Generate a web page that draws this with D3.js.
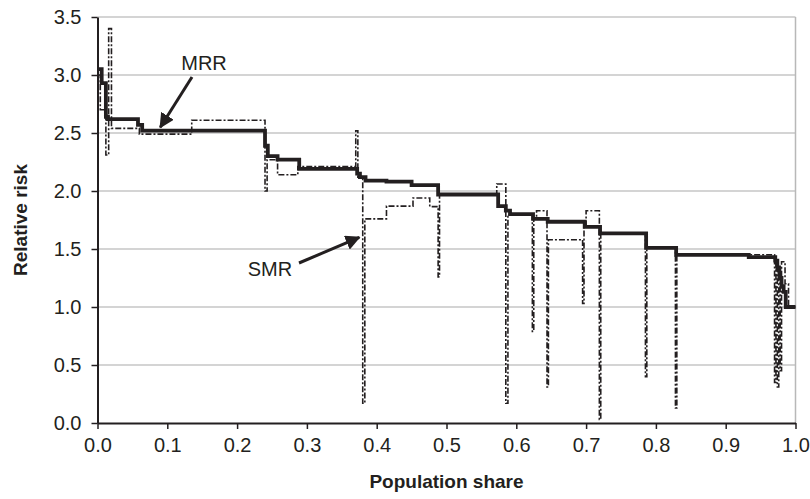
<!DOCTYPE html>
<html lang="en">
    <head>
        <meta charset="utf-8">
        <title>Relative risk by population share</title>
        <script type="text/javascript" src="https://cdnjs.cloudflare.com/ajax/libs/d3/7.8.5/d3.min.js"></script>
        <style>
            body { margin: 0; background: #fff; }
            text { font-family: "Liberation Sans", Arial, sans-serif; fill: #231f20; }
        </style>
    </head>
    <body>
        <div id="plot"></div>
        <script type="text/javascript">
            // step data: share where each step starts, and its value
            var mrrShare = [0, 0.006, 0.012, 0.015, 0.058, 0.064, 0.240, 0.244, 0.258, 0.289, 0.372, 0.376, 0.384, 0.414,
                            0.450, 0.488, 0.574, 0.585, 0.591, 0.624, 0.645, 0.698, 0.720, 0.786, 0.829, 0.933,
                            0.971, 0.974, 0.977, 0.980, 0.983, 0.986, 1.0];
            var mrrRisk  = [3.05, 2.93, 2.64, 2.62, 2.57, 2.52, 2.39, 2.30, 2.27, 2.19, 2.15, 2.12, 2.09, 2.08,
                            2.05, 1.97, 1.87, 1.83, 1.80, 1.76, 1.735, 1.69, 1.635, 1.51, 1.45, 1.43,
                            1.40, 1.33, 1.25, 1.18, 1.13, 1.00, 1.00];

            var smrShare = [0, 0.004, 0.012, 0.016, 0.020, 0.060, 0.135, 0.240, 0.243, 0.258, 0.287, 0.370, 0.373,
                            0.380, 0.383, 0.414, 0.452, 0.476, 0.488, 0.490, 0.572, 0.585, 0.588, 0.623, 0.625,
                            0.629, 0.644, 0.646, 0.695, 0.697, 0.700, 0.719, 0.721, 0.785, 0.787, 0.828, 0.830,
                            0.970, 0.972, 0.974, 0.976, 0.978, 0.980, 0.985, 0.990, 1.0];
            var smrRisk  = [3.00, 2.70, 2.31, 3.40, 2.54, 2.49, 2.61, 2.00, 2.27, 2.14, 2.21, 2.52, 2.12,
                            0.17, 1.76, 1.87, 1.94, 1.865, 1.26, 1.97, 2.06, 0.17, 1.80, 0.79, 1.76,
                            1.83, 0.31, 1.58, 1.03, 1.69, 1.83, 0.03, 1.635, 0.40, 1.51, 0.13, 1.45,
                            0.35, 1.39, 0.31, 1.35, 0.45, 1.39, 1.20, 1.00, 1.00];

            var xTicks = [0, 0.1, 0.2, 0.3, 0.4, 0.5, 0.6, 0.7, 0.8, 0.9, 1.0];
            var yTicks = [0, 0.5, 1.0, 1.5, 2.0, 2.5, 3.0, 3.5];

            var width = 810;
            var height = 499;
            var plotLeft = 97.5, plotRight = 795.5, plotTop = 17, plotBottom = 423;

            var mrr = mrrShare.map(function(s, i){ return [s, mrrRisk[i]]; });
            var smr = smrShare.map(function(s, i){ return [s, smrRisk[i]]; });

            var xScale = d3.scaleLinear().domain([0, 1]).range([plotLeft, plotRight]);
            var yScale = d3.scaleLinear().domain([0, 3.5]).range([plotBottom, plotTop]);

            var svg = d3.select("#plot")
                    .append("svg")
                    .attr("width", width)
                    .attr("height", height);

            // gridlines
            svg.append("g")
                .selectAll("line")
                .data(yTicks.slice(1))
                .enter()
                .append("line")
                .attr("x1", plotLeft).attr("x2", plotRight)
                .attr("y1", function(d){ return yScale(d); })
                .attr("y2", function(d){ return yScale(d); })
                .attr("stroke", "#c6c6c6")
                .attr("stroke-width", 1.5);

            // right frame
            svg.append("line")
                .attr("x1", plotRight).attr("x2", plotRight)
                .attr("y1", plotTop).attr("y2", plotBottom)
                .attr("stroke", "#b8b8b8")
                .attr("stroke-width", 1.5);

            var line = d3.line()
                    .x(function(d){ return xScale(d[0]); })
                    .y(function(d){ return yScale(d[1]); })
                    .curve(d3.curveStepAfter);

            svg.append("path")
                .datum(smr)
                .attr("d", line)
                .attr("fill", "none")
                .attr("stroke", "#231f20")
                .attr("stroke-width", 1.6)
                .attr("stroke-dasharray", "6,2,2,2");

            svg.append("path")
                .datum(mrr)
                .attr("d", line)
                .attr("fill", "none")
                .attr("stroke", "#231f20")
                .attr("stroke-width", 3.8);

            // axes
            var xAxis = d3.axisBottom(xScale)
                    .tickValues(xTicks)
                    .tickFormat(d3.format(".1f"))
                    .tickSizeInner(6)
                    .tickSizeOuter(0)
                    .tickPadding(9);
            var yAxis = d3.axisLeft(yScale)
                    .tickValues(yTicks)
                    .tickFormat(d3.format(".1f"))
                    .tickSizeInner(6)
                    .tickSizeOuter(0)
                    .tickPadding(10);

            var gx = svg.append("g")
                .attr("transform", "translate(0," + plotBottom + ")")
                .call(xAxis);
            var gy = svg.append("g")
                .attr("transform", "translate(" + plotLeft + ",0)")
                .call(yAxis);

            [gx, gy].forEach(function(g){
                g.attr("font-family", null).attr("font-size", null);
                g.select(".domain").attr("stroke", "#231f20").attr("stroke-width", 2);
                g.selectAll(".tick line").attr("stroke", "#231f20").attr("stroke-width", 1.5);
                g.selectAll(".tick text").attr("font-size", 20).attr("fill", "#231f20");
            });

            svg.append("text")
                .attr("x", (plotLeft + plotRight) / 2)
                .attr("y", 488)
                .attr("text-anchor", "middle")
                .attr("font-size", 19)
                .attr("font-weight", "bold")
                .text("Population share");

            svg.append("text")
                .attr("transform", "translate(27," + ((plotTop + plotBottom) / 2) + ") rotate(-90)")
                .attr("text-anchor", "middle")
                .attr("font-size", 19)
                .attr("font-weight", "bold")
                .text("Relative risk");

            // annotations
            svg.append("defs").append("marker")
                .attr("id", "head")
                .attr("viewBox", "0 0 10 10")
                .attr("refX", 9).attr("refY", 5)
                .attr("markerWidth", 5).attr("markerHeight", 5)
                .attr("orient", "auto")
                .append("path")
                .attr("d", "M0,0 L10,5 L0,10 Z")
                .attr("fill", "#231f20");

            svg.append("text")
                .attr("x", 204).attr("y", 70)
                .attr("text-anchor", "middle")
                .attr("font-size", 20)
                .text("MRR");
            svg.append("line")
                .attr("x1", 192).attr("y1", 77)
                .attr("x2", xScale(0.09)).attr("y2", yScale(2.55))
                .attr("stroke", "#231f20")
                .attr("stroke-width", 3)
                .attr("marker-end", "url(#head)");

            svg.append("text")
                .attr("x", 270).attr("y", 276)
                .attr("text-anchor", "middle")
                .attr("font-size", 20)
                .text("SMR");
            svg.append("line")
                .attr("x1", 299).attr("y1", 263)
                .attr("x2", xScale(0.375)).attr("y2", yScale(1.6))
                .attr("stroke", "#231f20")
                .attr("stroke-width", 3)
                .attr("marker-end", "url(#head)");
        </script>
    </body>
</html>
